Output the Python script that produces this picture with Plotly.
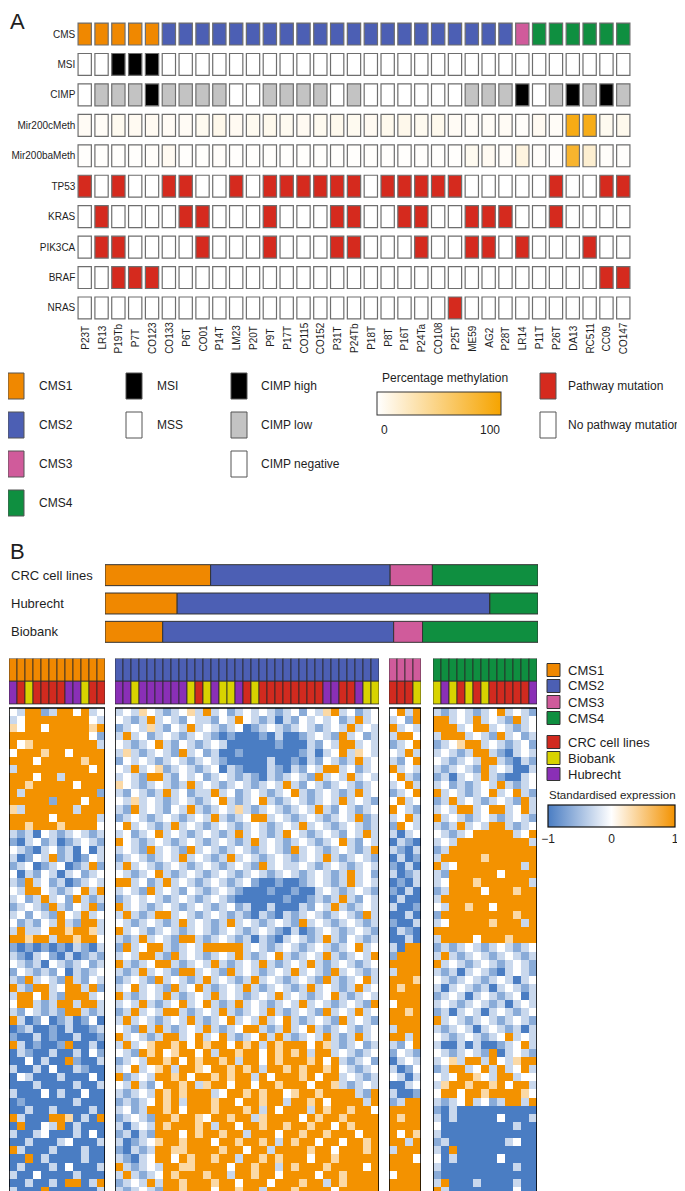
import plotly.graph_objects as go

FONT = "Liberation Sans, Arial, sans-serif"
W, H = 685, 1191

# ---------------------------
# Panel A data
# ---------------------------
samples = ["P23T", "LR13", "P19Tb", "P7T", "CO123", "CO133", "P6T", "CO01", "P14T",
           "LM23", "P20T", "P9T", "P17T", "CO115", "CO152", "P31T", "P24Tb", "P18T",
           "P8T", "P16T", "P24Ta", "CO108", "P25T", "ME59", "AG2", "P28T", "LR14",
           "P11T", "P26T", "DA13", "RC511", "CC09", "CO147"]
row_names = ["CMS", "MSI", "CIMP", "Mir200cMeth", "Mir200baMeth",
             "TP53", "KRAS", "PIK3CA", "BRAF", "NRAS"]

cms_a = [1, 1, 1, 1, 1, 2, 2, 2, 2, 2, 2, 2, 2, 2, 2, 2, 2, 2, 2, 2, 2, 2, 2, 2, 2, 2,
         3, 4, 4, 4, 4, 4, 4]
msi = [0, 0, 1, 1, 1, 0, 0, 0, 0, 0, 0, 0, 0, 0, 0, 0, 0, 0, 0, 0, 0, 0, 0, 0, 0, 0,
       0, 0, 0, 0, 0, 0, 0]
# 0 = negative, 1 = low, 2 = high
cimp = [0, 1, 1, 1, 2, 1, 1, 1, 1, 0, 0, 1, 1, 1, 1, 0, 1, 0, 0, 0, 0, 0, 0, 1, 1, 1,
        2, 0, 1, 2, 1, 2, 1]
mir200c_meth = [4, 3, 6, 5, 5, 4, 4, 6, 8, 5, 6, 7, 6, 5, 6, 7, 6, 5, 7, 8, 6, 7, 4, 3,
                3, 4, 2, 5, 3, 92, 90, 6, 7]
mir200ba_meth = [1, 1, 1, 1, 2, 5, 1, 1, 2, 1, 1, 1, 1, 1, 1, 1, 1, 1, 1, 1, 1, 1, 1, 6,
                 5, 3, 12, 2, 2, 82, 18, 2, 1]
tp53 = [1, 0, 1, 0, 0, 1, 1, 0, 0, 1, 0, 1, 1, 1, 1, 1, 1, 0, 1, 1, 1, 1, 1, 0, 0, 0,
        0, 0, 1, 0, 0, 1, 1]
kras = [0, 1, 0, 0, 0, 0, 1, 1, 0, 0, 0, 1, 0, 0, 0, 1, 1, 0, 0, 1, 1, 0, 0, 1, 1, 1,
        0, 0, 1, 0, 0, 0, 0]
pik3ca = [0, 1, 1, 0, 0, 0, 0, 1, 0, 0, 0, 1, 0, 0, 0, 1, 1, 0, 0, 0, 1, 0, 0, 1, 1, 0,
          1, 0, 0, 0, 1, 0, 0]
braf = [0, 0, 1, 1, 1, 0, 0, 0, 0, 0, 0, 0, 0, 0, 0, 0, 0, 0, 0, 0, 0, 0, 0, 0, 0, 0,
        0, 0, 0, 0, 0, 1, 1]
nras = [0, 0, 0, 0, 0, 0, 0, 0, 0, 0, 0, 0, 0, 0, 0, 0, 0, 0, 0, 0, 0, 0, 1, 0, 0, 0,
        0, 0, 0, 0, 0, 0, 0]

# ---------------------------
# Panel B data
# ---------------------------
sources = ["CRC cell lines", "Hubrecht", "Biobank"]
crc_counts = [10, 17, 4, 10]
hubrecht_counts = [3, 13, 0, 2]
biobank_counts = [2, 8, 1, 4]

# sample origin per heatmap column: R = CRC cell line, Y = Biobank, P = Hubrecht
cms1_source = "PRYRRRRPPYRR"
cms2_source = "PPYPPPPPPYRYPYYPRYRRRRRRRRPPRRPYY"
cms3_source = "RRRY"
cms4_source = "YPYRYRYRRRRRP"

# expression levels, B = -1 ... O = +1
cms1_expr = [
    "wcOObcOOwOcw", "cwOOOOOOOOwc", "ywOOwOOOOOyO", "OOOOOOOOOOwb", "OwyOOOOOOOOc",
    "wOOOyOOwOOOO", "OOOwOOOOOyOO", "cOOOOOOOOOwO", "OOOwOOcOOOOO", "OOyOOOOOwOOO",
    "OcOOOOOOOOOb", "OOOOObOOOwOO", "ycOOOOOOcOOO", "OOOOOwOOOOOc", "OOyOOOyOOOOw",
    "cbcBwcbcwcbc", "bBcwbcBbcwcb", "wcbBcwbcBwBc", "cBbwcObcBbwc", "bcwBbcwBbcOb",
    "wBcbwcBcwbcw", "cbOcwbcBbcwc", "wcOOwcbcwOcO", "cwbcOcwbOcbc", "bcwcbOcbwcOb",
    "cwbwcbOwcOcw", "wbcbwcOcbOOc", "cOccwOOyOOyc", "OOyOOcOOyOOw", "bBbBbBbBcbBc",
    "cbBcwbBcBbcb", "wcbcBwcbcwbc", "bwcbcbwBcbcw", "cbOcwcbOcbwc", "OcbOOcwOOcOb",
    "cOOwOcbOOOcw", "wOOcbcOOcOOc", "cbwcbcbOOcbc", "OcBbwBbcBbwB", "BbcBBbBcBBbc",
    "bBBcBbBBcBBb", "OcBbBBbOBBcB", "BcbBBcBBcBwb", "BBwBcBBObBBc", "cBBcBwBBcbBB",
    "BwcBBBcBBBwB", "BBBcBBBBcBBc", "cBBBwBcBBwBB", "BbBBBBBBcBBB", "BBcBBcBBBBcB",
    "OcBBBOOyBcBO", "BOBBwcOBcBBB", "cBBcwBBBcBwB", "BBcBBBcwBBBc", "OcBBBcBBBcBB",
    "BBOBcBBBBcBB", "BcBBBcBwBBBc", "cBBwBBBBcBBB", "BBcBBcBOOBcO", "cBBBOBBBBBBc",
]
cms2_expr = [
    "cwcywcbcwyc" "Ocwbcwcwcbc" "wbwcyOcwbcw",
    "wcbcOcwcbwc" "cbwcOwcbcBc" "bwcwcwbcOcw",
    "bcwcycbwcOc" "wcbcwBbcwcb" "cwcbcwcOcwc",
    "cOcwbcwcbcw" "cbBbBBBbBcB" "BbcwcbOcwbc",
    "wcbcwOcbwcb" "cwcBBBBBBbB" "BBcbwcOOcwc",
    "cycbcwcbOcw" "bcBBbBBBBBB" "BbcBcwOcywc",
    "bwcwcbcwcbc" "wcbBBBBBcBB" "bBcbwcbcOcw",
    "wcOcwybcwcb" "cwBcbBBBcbB" "cbwcOOcwbcw",
    "cwcbOOcbwcw" "bcwcbcbBcbc" "wcbOcwcOcwc",
    "ywcbcwcbcOc" "wcbcwcbcwcO" "cbwcbcwcbcw",
    "cbwcbcOcwbc" "cOcwbcwcbcw" "OcbcwcbcOcw",
    "wcycwcbcwcb" "cwOcbcwOcbc" "wcbcwcOcwcb",
    "cbOcwcbwcOc" "bcwcycbcwcb" "cwcOcbwcbcw",
    "bcwcbcwcbcw" "cOcbcwOOcwc" "bcwcbcwcObc",
    "wOcwcbcOcwc" "bcwcbcwcbcw" "cOcwcbcwcbc",
    "cwbcwOcwcbc" "wcbcOcwcbcO" "wcbcwcbwcOc",
    "Owcbcwcbcwc" "bcwcbcOcwcb" "cwcbcwOcbwc",
    "cwcbOcwcbOc" "wcbcwcbcwcb" "OcwcbcwcbcO",
    "bcwcbcwcOcw" "cbcOcwcbcwc" "bcwcOcbcwcb",
    "cOcwcbcwcbc" "wcbcwcbOcwc" "cwcbcwcbcwc",
    "wcbcwOcbcwc" "bcwcbcwcbcw" "cbcwcbcOcwb",
    "OOcwbcOcwcb" "cwcbcwbBBbB" "BbcwcbcOcwc",
    "cwcbOcwcbwc" "bcwcbBBBbBB" "bBBcwcbcwcb",
    "bcwcwcbcwcb" "cwcbBBBBBBb" "BBbcbcOcbwc",
    "Ocwcbcwcbcw" "cbcwbcBBcBB" "BcbwcOcbcwc",
    "cOcbcOOcwcb" "cwcbcbBcbBc" "bcwcbcwcbOc",
    "wcbcwcbcOcw" "cbcOcwcbcwc" "bOcwcbcwcbc",
    "Ocwcbcwcbcw" "cbcwcbcwcbB" "cBbcwcbcwcb",
    "cbcOcwcbOOc" "bcwcbcBcbBc" "wcbcOcbwcbc",
    "bOcwOOcbcwc" "OOOOOcwcbcw" "cbcwcbcwOcw",
    "cwcOOcbOcwc" "bcwcOcbcwOc" "bcwcOcbcwcO",
    "OcbcwOOcbcw" "cOcbcwcOcbc" "wcOcbcwcbcw",
    "cbcOcwcbOOc" "wcbOcwcbcwc" "OcwcbOcwcbc",
    "bcwcbOcwcbc" "OcwcbcOcwcb" "cwcbOcbcwOc",
    "cwOcwcbOcwO" "cbcwcOcbcwc" "bcOcwcbcOcw",
    "OcbcwcOcbcw" "cOcwcbcwcOc" "wcbcwOcbcwc",
    "cwcOcbcwOcw" "OcbcOcwcbcw" "cOcwcbcwcbO",
    "bcOcwcOOcbc" "wcOcbcwcOcb" "cwcbOcwcOcw",
    "cOcwcbcwcOc" "bcwOcwcOcwO" "cbcwcbOcwcb",
    "wcbOcOcbcwc" "OcbcwOOcbcO" "cwOcbcwcbcw",
    "OcwcbcOOcwO" "cwOcbcwOcOc" "bcwcOcbcOcw",
    "cOcwyOOyOwO" "yOOwOyOcOyO" "OOwOycbcwbc",
    "wcbOyOwyOOw" "OcOOyOOwOyO" "yOcOOcwcbcw",
    "bcwcOOyOwOy" "OOyOcOOwOyO" "OOyOwOcbcwb",
    "cwOcwyOcOOy" "wOOyOyOcOOy" "OyOOyOwcbcw",
    "ObcwcOOyOwO" "OyOyOOcOwOO" "OyOwOOcwcbc",
    "wcOcbwOOyOc" "yOOwOOwOOyO" "OOwOOycbcwc",
    "cbcwcOyOyOO" "OcwOOyOyOOw" "yOOyOOOOcbO",
    "bcbcwOyOcOO" "OyOOwOOyOOc" "OOyOwOOOOcO",
    "cwbcOOyOwOO" "OyOOOyOcOwO" "OOcOyOOyOOw",
    "bcwcbOOyOOy" "wOOyOOcyOOO" "OwOyOOyOOOO",
    "cBcwcOyOOOy" "OcOOwOOyOOy" "OOyOOwOyOOO",
    "bcBcbOOOwOy" "OOyOOcOOOwO" "OyOOyOOOwOO",
    "cBbcwyOOyOO" "OwOOyOOyOcO" "yOOwOOwOOyO",
    "bBcbcOOyyOO" "OOyOOwOOcOO" "OOyOOwOOOyO",
    "cbBcwOOwOyO" "OyOOcOOyOyO" "OOwOOyOOOOO",
    "OcbcwcOOyyO" "OOOwOOyOOcO" "yOOOyOOOOwO",
    "cOcbcwOyOOO" "yOOcOOyOOwO" "OOOwOOyOOOO",
    "bcwcOcOOyOO" "OyOOwOOOwOO" "OyOOcOyOOOO",
    "cbcwcbOOyOO" "OwOOyOOcOOO" "yOOOOwOOOOO",
]
cms3_expr = [
    "wOcO", "cwbO", "Ocwc", "cOOw", "bcwO", "wcOc", "cbwO", "Ocwc", "wOcb", "cwOc",
    "bcwO", "wOcw", "Owcb", "cwOc", "bOwc", "cBcw", "BcbB", "cbBc", "BcBb", "bBcB",
    "cBbc", "BbBc", "bBcB", "BcBB", "cBBb", "BBcB", "bBBc", "BcbB", "BBcB", "cBOO",
    "bOOO", "OOOO", "cOOO", "OOOy", "OyOO", "OOOO", "wOOO", "OOyO", "OOOO", "cOOO",
    "OOcO", "cbwO", "bwcb", "Bcwc", "cBbw", "wcBc", "BBcw", "cBBb", "bcOO", "OOOO",
    "OyOO", "OOOO", "OwOy", "OOcO", "cOOO", "OOOw", "OOOO", "wOOO", "OOOO", "OOOO",
]
cms4_expr = [
    "cbcwcbcwOcwcb", "OOcwcOcwcbOcw", "OOOcwOOcwcbcw", "cOOOcwcbOcwbc", "bcwyOOcwcbcwb",
    "cwcbcOOcbBcwc", "wcbcwcOOcbBcb", "cbcwcbOcwcBBc", "bcBcwcOcbBBcw", "cwbcbcwcOcbcw",
    "OcwcbcwOcwOcb", "bcOcwcbcwcbOc", "cwcOOcwOOcwOc", "Ocwcbcwcbcwcb", "cbcOcwcOOcbcw",
    "wcbcwOOOOOcwO", "cwcOOOOOOOOOc", "bcOOOOOOOOOOO", "cOOOOOyOOOOOO", "OcwOOOOOOOOcO",
    "cbOOOOOOwOOOO", "cwOOOyOOOOOOc", "bcOOOOwOOOyOO", "cOOOOOOOOOOOO", "wcOOyOOwOOOOO",
    "bOOOOOOOOOyOO", "cwOOOOOyOOOcO", "OOOOOOOOOOOOO", "cOOOOwOOOyOOO", "bcbcwcbcwcbcw",
    "cOcbcwcbcwcbc", "Ocwcbcwcbcwcb", "cbcBcwcbBcwcb", "wcbcwcbcwcBcw", "cBcwcbcBcwcbc",
    "bcwcBcwcbcwBc", "cwcbcwcbcBcwc", "bcBcwcBcwcbcw", "Ocwcbcwcbcwcb", "cbcwcBcwcbcBc",
    "wcbcwcbcwOcwc", "cBBcBcBBbcwOc", "wcbcwcbOBcwcb", "cwycOOcOwcyOO", "bcOOcwOcOcwOc",
    "wcwOOywcOOcww", "cyOOyOOyOwOOc", "wOOwOOyOOOOyw", "cbcwOcwbcOOcO", "bBcBBBBBBBBBB",
    "cBcBBBBBwBBBc", "wBBBBBBBBBcBB", "cBBBBBBBBBBBB", "bcBBBBBBBcwBB", "cBOBBBBBBBBBB",
    "wBcBBBBBwBBBB", "cBBBBBBBBBcBB", "bBBBBBBBBBBBB", "cOBBBcBBBBcBB", "OcBBBBBBBBwBB",
]

# ---------------------------
# Styles
# ---------------------------
CMS_COLORS = {1: "#f08800", 2: "#4c5fb4", 3: "#d05b9b", 4: "#0f8f40"}
SOURCE_COLORS = {"R": "#d12a1f", "Y": "#d8d300", "P": "#8a2fb6"}
MUT_RED = "#d52a1e"
CIMP_COLORS = {0: "white", 1: "#c3c3c3", 2: "black"}
METH_SCALE = [[0, "#ffffff"], [1, "#f6a400"]]
EXPR_SCALE = [[0, "#4a7dc3"], [0.5, "#ffffff"], [1, "#f39200"]]
LEVELS = {"B": -1.0, "b": -0.65, "c": -0.3, "w": 0.0, "y": 0.35, "o": 0.65, "O": 1.0}
TEXT = "#1e1e1e"


def px(x):
    return x / W


def py(y):
    return 1 - y / H


fig = go.Figure()

# ---------------------------
# Panel A grid
# ---------------------------
grid_rows = [
    [CMS_COLORS[v] for v in cms_a],
    ["black" if v else "white" for v in msi],
    [CIMP_COLORS[v] for v in cimp],
    mir200c_meth,
    mir200ba_meth,
    [MUT_RED if v else "white" for v in tp53],
    [MUT_RED if v else "white" for v in kras],
    [MUT_RED if v else "white" for v in pik3ca],
    [MUT_RED if v else "white" for v in braf],
    [MUT_RED if v else "white" for v in nras],
]
n = len(samples)
for i, colors in enumerate(grid_rows):
    marker = dict(color=colors, line=dict(color="#6e6e6e", width=1.2))
    if row_names[i].endswith("Meth"):
        marker.update(colorscale=METH_SCALE, cmin=0, cmax=100)
        if i == 3:
            marker.update(showscale=True, colorbar=dict(
                orientation="h", x=px(369), xanchor="left", y=py(384),
                yanchor="top", len=124, lenmode="pixels", thickness=23,
                thicknessmode="pixels", outlinecolor="#333", outlinewidth=1,
                showticklabels=False, ticks="", xpad=0, ypad=0))
    fig.add_trace(go.Bar(
        x=samples, y=[0.72] * n, base=-i - 0.36, width=0.79, marker=marker,
        xaxis="x", yaxis="y", showlegend=False, hoverinfo="skip"))

for s in samples:
    fig.add_annotation(x=s, xref="x", y=py(330), yref="paper", text=s,
                       textangle=-90, showarrow=False, xanchor="center",
                       yanchor="middle", font=dict(size=10, color=TEXT))

# Panel A legend
legend_groups = [
    (0, [("CMS1", CMS_COLORS[1]), ("CMS2", CMS_COLORS[2]),
         ("CMS3", CMS_COLORS[3]), ("CMS4", CMS_COLORS[4])], 29),
    (118, [("MSI", "black"), ("MSS", "white")], 147),
    (223, [("CIMP high", "black"), ("CIMP low", "#c3c3c3"),
           ("CIMP negative", "white")], 251),
    (532, [("Pathway mutation", MUT_RED), ("No pathway mutation", "white")], 558),
]
legend_rows = [378, 417, 456, 495]
for x0, items, tx in legend_groups:
    for k, (label, col) in enumerate(items):
        yc = legend_rows[k]
        fig.add_shape(type="rect", xref="paper", yref="paper",
                      x0=px(x0), x1=px(x0 + 16), y0=py(yc - 13), y1=py(yc + 13),
                      fillcolor=col, line=dict(color="#555", width=1))
        fig.add_annotation(x=px(tx), y=py(yc), xref="paper", yref="paper",
                           text=label, showarrow=False, xanchor="left",
                           yanchor="middle", font=dict(size=12, color=TEXT))

fig.add_annotation(x=px(372), y=py(370), xref="paper", yref="paper",
                   text="Percentage methylation", showarrow=False,
                   xanchor="left", yanchor="middle", font=dict(size=12, color=TEXT))
fig.add_annotation(x=px(371), y=py(422), xref="paper", yref="paper", text="0",
                   showarrow=False, xanchor="left", yanchor="middle",
                   font=dict(size=12, color=TEXT))
fig.add_annotation(x=px(494), y=py(422), xref="paper", yref="paper", text="100",
                   showarrow=False, xanchor="right", yanchor="middle",
                   font=dict(size=12, color=TEXT))

# ---------------------------
# Panel B: CMS proportions per source
# ---------------------------
all_counts = [crc_counts, hubrecht_counts, biobank_counts]
fractions = [[c / sum(counts) for c in counts] for counts in all_counts]
left = [0.0] * len(sources)
for k in range(4):
    vals = [f[k] for f in fractions]
    fig.add_trace(go.Bar(
        y=list(range(len(sources))), x=vals, base=left, orientation="h",
        width=0.74, marker=dict(color=CMS_COLORS[k + 1],
                                line=dict(color="#333", width=1)),
        xaxis="x2", yaxis="y2", showlegend=False, hoverinfo="skip"))
    left = [a + b for a, b in zip(left, vals)]

for j, s in enumerate(sources):
    fig.add_annotation(x=px(1), y=j, xref="paper", yref="y2", text=s,
                       showarrow=False, xanchor="left", yanchor="middle",
                       font=dict(size=13, color=TEXT))

# ---------------------------
# Panel B heatmap
# ---------------------------
blocks = [(cms1_expr, cms1_source, 1), (cms2_expr, cms2_source, 2),
          (cms3_expr, cms3_source, 3), (cms4_expr, cms4_source, 4)]
block_left = [1, 107, 381, 425]
CELL = 8
n_rows = len(cms1_expr)
layout_axes = {}
for b, (expr, src, cms) in enumerate(blocks):
    ax = b + 3
    xa, xname = f"x{ax}", f"xaxis{ax}"
    m = len(src)
    z = [[LEVELS[ch] for ch in row] for row in expr]
    hm = dict(z=z, x=list(range(m)), y=list(range(n_rows)), colorscale=EXPR_SCALE,
              zmin=-1, zmax=1, xaxis=xa, yaxis="y3", hoverinfo="skip",
              showscale=(b == 0))
    if b == 0:
        hm["colorbar"] = dict(
            orientation="h", x=px(540), xanchor="left", y=py(797), yanchor="top",
            len=127, lenmode="pixels", thickness=22, thicknessmode="pixels",
            outlinecolor="#111", outlinewidth=1.2, tickvals=[-1, 0, 1],
            ticks="", tickfont=dict(size=12, color=TEXT, family=FONT),
            xpad=0, ypad=0)
    fig.add_trace(go.Heatmap(**hm))
    # CMS annotation row
    fig.add_trace(go.Bar(
        x=list(range(m)), y=[2.8] * m, base=-6.6, width=1,
        marker=dict(color=CMS_COLORS[cms], line=dict(color="#2a2a2a", width=0.8)),
        xaxis=xa, yaxis="y3", showlegend=False, hoverinfo="skip"))
    # source annotation row
    fig.add_trace(go.Bar(
        x=list(range(m)), y=[2.8] * m, base=-3.8, width=1,
        marker=dict(color=[SOURCE_COLORS[c] for c in src],
                    line=dict(color="#2a2a2a", width=0.8)),
        xaxis=xa, yaxis="y3", showlegend=False, hoverinfo="skip"))
    fig.add_shape(type="rect", xref=xa, yref="y3", x0=-0.5, x1=m - 0.5,
                  y0=-0.5, y1=n_rows - 0.5, line=dict(color="black", width=1.6))
    x0 = block_left[b]
    layout_axes[xname] = dict(domain=[px(x0), px(x0 + m * CELL)],
                              range=[-0.5, m - 0.5], visible=False, anchor="y3")

# Panel B legend
b_legend = [("CMS1", CMS_COLORS[1], 662), ("CMS2", CMS_COLORS[2], 678),
            ("CMS3", CMS_COLORS[3], 694), ("CMS4", CMS_COLORS[4], 710),
            ("CRC cell lines", SOURCE_COLORS["R"], 734),
            ("Biobank", SOURCE_COLORS["Y"], 750),
            ("Hubrecht", SOURCE_COLORS["P"], 766)]
for label, col, yc in b_legend:
    fig.add_shape(type="rect", xref="paper", yref="paper",
                  x0=px(539), x1=px(552), y0=py(yc - 6.5), y1=py(yc + 6.5),
                  fillcolor=col, line=dict(color="#333", width=1))
    fig.add_annotation(x=px(558), y=py(yc), xref="paper", yref="paper",
                       text=label, showarrow=False, xanchor="left",
                       yanchor="middle", font=dict(size=13, color=TEXT))
fig.add_annotation(x=px(539), y=py(787), xref="paper", yref="paper",
                   text="Standardised expression", showarrow=False,
                   xanchor="left", yanchor="middle", font=dict(size=11.5, color=TEXT))

# panel letters
fig.add_annotation(x=px(0), y=py(13), xref="paper", yref="paper", text="A",
                   showarrow=False, xanchor="left", yanchor="middle",
                   font=dict(size=22, color=TEXT))
fig.add_annotation(x=px(0), y=py(543), xref="paper", yref="paper", text="B",
                   showarrow=False, xanchor="left", yanchor="middle",
                   font=dict(size=22, color=TEXT))

fig.update_layout(
    width=W, height=H, margin=dict(l=0, r=0, t=0, b=0),
    paper_bgcolor="white", plot_bgcolor="white", barmode="overlay",
    font=dict(family=FONT, color=TEXT),
    xaxis=dict(domain=[px(68.3), px(623.7)], range=[-0.5, n - 0.5],
               showticklabels=False, showgrid=False, zeroline=False,
               showline=False, ticks="", anchor="y"),
    yaxis=dict(domain=[py(315.2), py(10.8)], range=[-9.5, 0.5],
               tickvals=[-i for i in range(len(row_names))], ticktext=row_names,
               showgrid=False, zeroline=False, showline=False, ticks="",
               tickfont=dict(size=10, color=TEXT), anchor="x"),
    xaxis2=dict(domain=[px(97), px(530)], range=[0, 1], visible=False, anchor="y2"),
    yaxis2=dict(domain=[py(638), py(553)], range=[2.5, -0.5], visible=False,
                anchor="x2"),
    yaxis3=dict(domain=[py(1187), py(650.5)], range=[n_rows - 0.5, -6.6],
                visible=False, anchor="x3"),
    **layout_axes,
)

fig.write_html("out.html")
